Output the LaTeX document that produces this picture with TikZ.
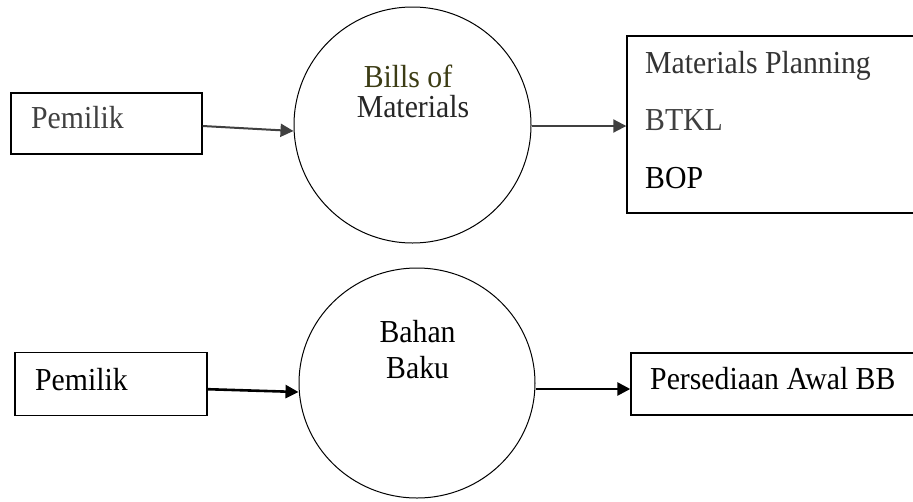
\documentclass[tikz,border=0pt]{standalone}
\usepackage{fontspec}
\setmainfont[FakeStretch=0.93]{Liberation Serif}
\usetikzlibrary{arrows.meta,shapes.geometric}
\definecolor{txtgray}{HTML}{404040}
\definecolor{olivetxt}{HTML}{3C3C14}
\tikzset{
  boxnode/.style={draw=black, line width=1.4pt, rectangle, inner sep=0pt},
  procnode/.style={draw=black, line width=1pt, ellipse, inner sep=0pt},
  lbl/.style={font=\fontsize{32}{32}\selectfont, inner sep=0pt, anchor=base west},
  clbl/.style={font=\fontsize{32}{32}\selectfont, inner sep=0pt, anchor=base},
  arrtop/.style={draw=txtgray, line width=2pt, -{Triangle[length=13pt,width=13pt]}},
  arrbot/.style={draw=black, line width=2.6pt, -{Triangle[length=13pt,width=13pt]}}
}
\begin{document}
\begin{tikzpicture}[x=1pt,y=-1pt]
\useasboundingbox (0,0) rectangle (913,501);
\clip (0,0) rectangle (913,501);
\fill[white] (0,0) rectangle (913,501);
% top row
\node[boxnode, minimum width=191pt, minimum height=61pt] (p1) at (106.5,123.5) {};
\node[lbl, text=txtgray] (t1) at (31,128) {Pemilik};
\node[procnode, minimum width=237pt, minimum height=236pt] (c1) at (412.5,125) {};
\node[clbl, text=olivetxt] (c1a) at (408,87) {Bills of};
\node[clbl, text=black!85] (c1b) at (413,117) {Materials};
\node[boxnode, minimum width=292pt, minimum height=177pt] (r1) at (773,124.5) {};
\node[lbl, text=black!80] (r1a) at (645,73) {Materials Planning};
\node[lbl, text=txtgray] (r1b) at (645,130) {BTKL};
\node[lbl, text=black] (r1c) at (645,188) {BOP};
\draw[arrtop] ([yshift=-2.5pt]p1.east) -- ([yshift=-6pt]c1.west);
\draw[arrtop] ([yshift=-1pt]c1.east) -- ([yshift=-1.5pt]r1.west);
% bottom row
\node[boxnode, minimum width=192pt, minimum height=63pt] (p2) at (110.8,384.2) {};
\node[lbl] (t2) at (35,390) {Pemilik};
\node[procnode, minimum width=236pt, minimum height=230pt] (c2) at (417,383) {};
\node[clbl] (c2a) at (417.6,342) {Bahan};
\node[clbl] (c2b) at (417.6,378) {Baku};
\node[boxnode, minimum width=288pt, minimum height=62pt] (r2) at (775,384) {};
\node[lbl] (r2a) at (650,389) {Persediaan Awal BB};
\draw[arrbot] ([yshift=-5pt]p2.east) -- ([yshift=-9pt]c2.west);
\draw[arrbot] ([yshift=-6pt]c2.east) -- ([yshift=-5pt]r2.west);
\end{tikzpicture}
\end{document}
